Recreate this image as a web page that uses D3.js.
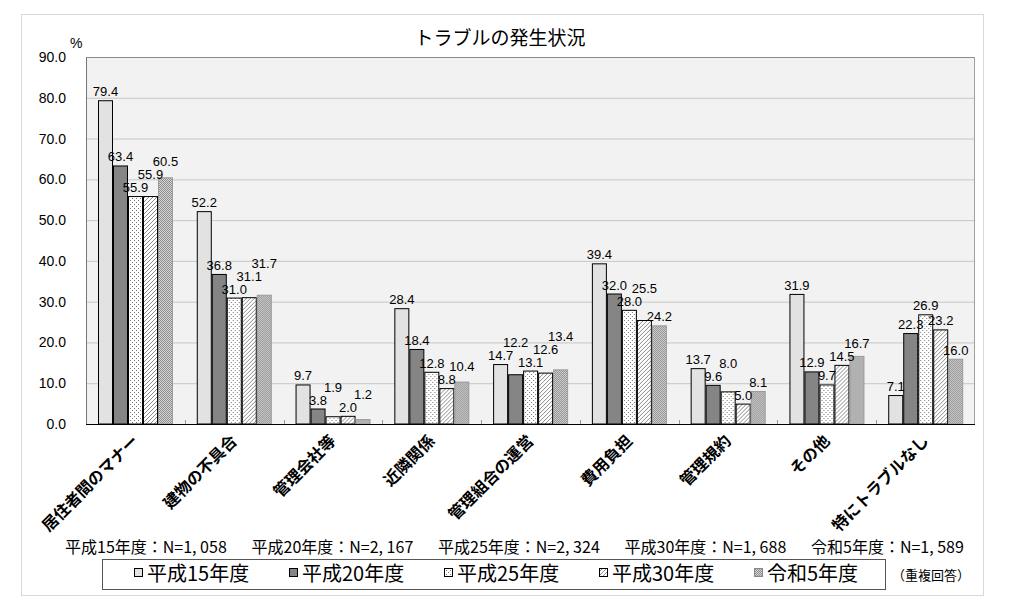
<!DOCTYPE html>
<html><head><meta charset="utf-8">
<script src="https://cdn.jsdelivr.net/npm/d3@7/dist/d3.min.js"></script>
<style>
html,body{margin:0;padding:0;background:#fff;}
svg{display:block;}
</style></head>
<body>
<svg id="c" width="1009" height="605"></svg>
<script>
const title = "トラブルの発生状況";
const categories = ["居住者間のマナー","建物の不具合","管理会社等","近隣関係","管理組合の運営","費用負担","管理規約","その他","特にトラブルなし"];
const seriesNames = ["平成15年度","平成20年度","平成25年度","平成30年度","令和5年度"];
const h15 = [79.4,52.2,9.7,28.4,14.7,39.4,13.7,31.9,7.1];
const h20 = [63.4,36.8,3.8,18.4,12.2,32.0,9.6,12.9,22.3];
const h25 = [55.9,31.0,1.9,12.8,13.1,28.0,8.0,9.7,26.9];
const h30 = [55.9,31.1,2.0,8.8,12.6,25.5,5.0,14.5,23.2];
const r5  = [60.5,31.7,1.2,10.4,13.4,24.2,8.1,16.7,16.0];
const sampleSizes = [1058,2167,2324,1688,1589];
const yTicks = [0,10,20,30,40,50,60,70,80,90];
const noteText = "（重複回答）";

const seriesValues = [h15,h20,h25,h30,r5];
const svg = d3.select("#c");
const defs = svg.append("defs");
const JP = "'Noto Sans CJK JP','Noto Sans',sans-serif";
const NUM = "'Liberation Sans',Arial,sans-serif";

// patterns
const pDots = defs.append("pattern").attr("id","pDots").attr("patternUnits","userSpaceOnUse").attr("width",4).attr("height",4);
pDots.append("rect").attr("width",4).attr("height",4).attr("fill","#fff");
pDots.append("rect").attr("x",0).attr("y",0).attr("width",1).attr("height",1).attr("fill","#777");
pDots.append("rect").attr("x",2).attr("y",2).attr("width",1).attr("height",1).attr("fill","#777");
const pDiag = defs.append("pattern").attr("id","pDiag").attr("patternUnits","userSpaceOnUse").attr("width",4).attr("height",4);
pDiag.append("rect").attr("width",4).attr("height",4).attr("fill","#fff");
pDiag.append("path").attr("d","M-1,1 L1,-1 M0,4 L4,0 M3,5 L5,3").attr("stroke","#8a8a8a").attr("stroke-width",1);
const pChk = defs.append("pattern").attr("id","pChk").attr("patternUnits","userSpaceOnUse").attr("width",2).attr("height",2);
pChk.append("rect").attr("width",2).attr("height",2).attr("fill","#d4d4d4");
pChk.append("rect").attr("width",1).attr("height",1).attr("fill","#8e8e8e");
pChk.append("rect").attr("x",1).attr("y",1).attr("width",1).attr("height",1).attr("fill","#8e8e8e");

const fills = ["#e2e2e2","#858585","url(#pDots)","url(#pDiag)","url(#pChk)"];
const strokes = ["#000","#000","#000","#000","#9a9a9a"];

// outer frame
svg.append("rect").attr("x",21.5).attr("y",14.5).attr("width",962).attr("height",581)
  .attr("fill","#fff").attr("stroke","#d8d8d8");

const L=86, R=975, T=57, B=424;
const y = d3.scaleLinear().domain([0,90]).range([B,T]);
const x0 = d3.scaleBand().domain(categories).range([L,R]);
const x1 = d3.scaleBand().domain(seriesNames).range([12, 12+75]);

// plot bg
svg.append("rect").attr("x",L).attr("y",T).attr("width",R-L).attr("height",B-T).attr("fill","#f2f2f2");
// grid
svg.append("g").selectAll("line").data(yTicks.filter(d=>d>0&&d<90)).join("line")
  .attr("x1",L).attr("x2",R).attr("y1",d=>y(d)+0.5).attr("y2",d=>y(d)+0.5)
  .attr("stroke","#c6c6c6");
// border
svg.append("line").attr("x1",L).attr("x2",R).attr("y1",T+0.5).attr("y2",T+0.5).attr("stroke","#8c8c8c");
svg.append("line").attr("x1",R-0.5).attr("x2",R-0.5).attr("y1",T).attr("y2",B).attr("stroke","#a0a0a0");
svg.append("line").attr("x1",L+0.5).attr("x2",L+0.5).attr("y1",T).attr("y2",B).attr("stroke","#777");

// y axis labels
const yAxis = d3.axisLeft(y).tickValues(yTicks).tickFormat(d3.format(".1f")).tickSize(0).tickPadding(20);
const ya = svg.append("g").attr("transform",`translate(${L},0)`).call(yAxis);
ya.select(".domain").remove();
ya.selectAll("text").attr("font-family",NUM).attr("font-size","14px").attr("fill","#000");
svg.append("text").attr("x",70).attr("y",48).attr("font-family",NUM).attr("font-size","14px").text("%");

// title
svg.append("text").attr("x",500).attr("y",45).attr("text-anchor","middle")
  .attr("font-family",JP).attr("font-size","19px").attr("fill","#000").text(title);

// bars
const groups = svg.append("g").selectAll("g").data(categories).join("g")
  .attr("transform",d=>`translate(${x0(d)},0)`);
groups.each(function(cat,ci){
  const g = d3.select(this);
  seriesNames.forEach((s,si)=>{
    const v = seriesValues[si][ci];
    g.append("rect").attr("x",x1(s)+0.5).attr("width",x1.bandwidth()-1)
      .attr("y",y(v)+0.5).attr("height",Math.max(0,B-y(v)-0.5))
      .attr("fill",fills[si]).attr("stroke",strokes[si]).attr("stroke-width",1);
  });
});

// x axis line and ticks
svg.append("line").attr("x1",L).attr("x2",R).attr("y1",B+0.5).attr("y2",B+0.5).attr("stroke","#000");
const xAxis = d3.axisBottom(x0).tickSize(0).tickFormat("");
const xa = svg.append("g").attr("transform",`translate(0,${B})`).call(xAxis);
xa.select(".domain").remove();
svg.append("g").selectAll("line").data(categories.slice(1)).join("line")
  .attr("x1",d=>Math.round(x0(d))+0.5).attr("x2",d=>Math.round(x0(d))+0.5)
  .attr("y1",B-4).attr("y2",B).attr("stroke","#999");

// value labels with simple collision avoidance
const labelLayer = svg.append("g").attr("font-family",NUM).attr("font-size","13px").attr("fill","#000");
categories.forEach((cat,ci)=>{
  const placed=[];
  seriesNames.forEach((s,si)=>{
    const v = seriesValues[si][ci];
    const cx = x0(cat)+x1(s)+x1.bandwidth()/2;
    const t = labelLayer.append("text").attr("text-anchor","middle").attr("x",cx).text(d3.format(".1f")(v));
    const w = t.node().getComputedTextLength();
    let by = y(v)-4;
    let moved=true, guard=0;
    while(moved && guard<20){
      moved=false; guard++;
      for(const p of placed){
        if(Math.abs(p.cx-cx) < (p.w+w)/2-2 && Math.abs(p.by-by) < 12){
          by = p.by-13; moved=true;
        }
      }
    }
    t.attr("y",by);
    placed.push({cx,w,by});
  });
});

// category labels
svg.append("g").selectAll("text").data(categories).join("text")
  .attr("transform",d=>`translate(${x0(d)+x0.bandwidth()/2+4},${B+18}) rotate(-45)`)
  .attr("text-anchor","end").attr("font-family",JP).attr("font-size","16px").attr("font-weight","bold")
  .attr("fill","#000").text(d=>d);

// sample sizes line
const nx = d3.scaleBand().domain(seriesNames).range([65, 65+5*186.5]);
const fmtN = d=>d3.format(",")(d).replace(",",", ");
svg.append("g").selectAll("text").data(seriesNames).join("text")
  .attr("x",d=>nx(d)).attr("y",553).attr("font-family",JP).attr("font-size","16px").attr("fill","#000")
  .text((d,i)=>`${d}：N=${fmtN(sampleSizes[i])}`);

// legend
svg.append("rect").attr("x",102.5).attr("y",559.5).attr("width",783).attr("height",30).attr("fill","#fff").attr("stroke","#555");
const lx = d3.scaleBand().domain(seriesNames).range([134, 134+5*155]);
const li = svg.append("g").selectAll("g").data(seriesNames).join("g").attr("transform",d=>`translate(${lx(d)},0)`);
li.append("rect").attr("x",0.5).attr("y",568.5).attr("width",8).attr("height",8)
  .attr("fill",(d,i)=>fills[i]).attr("stroke",(d,i)=>i===4?"#888":"#000");
li.append("text").attr("x",13).attr("y",581).attr("font-family",JP).attr("font-size","20px").attr("fill","#000").text(d=>d);
svg.append("text").attr("x",892).attr("y",580).attr("font-family",JP).attr("font-size","13px").attr("fill","#000").text(noteText);
</script>
</body></html>
